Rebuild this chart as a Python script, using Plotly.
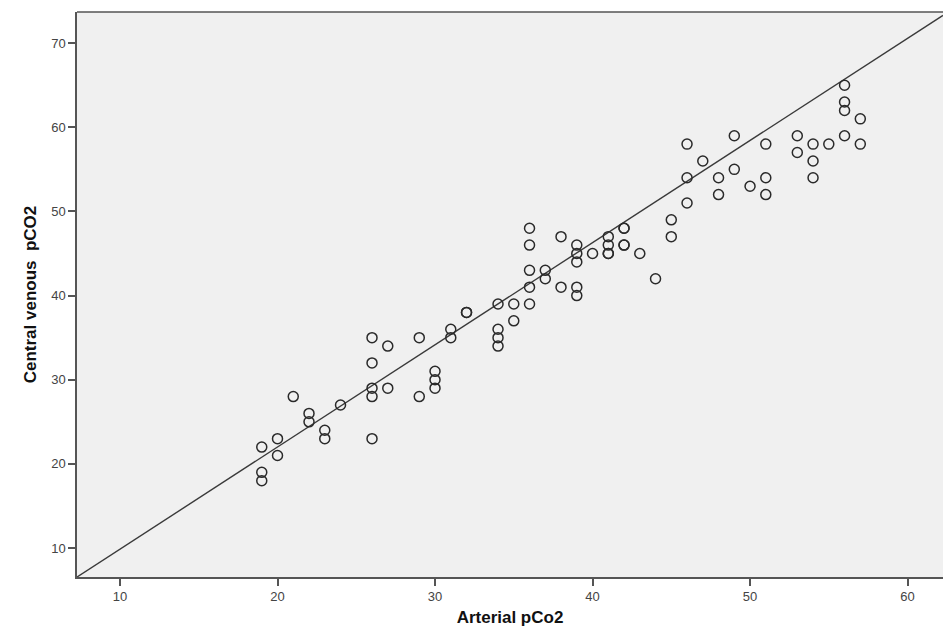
import plotly.graph_objects as go

# Data (Arterial pCO2, Central venous pCO2)
arterial = [19, 19, 19, 20, 20, 21, 22, 22, 23, 23, 24,
            26, 26, 26, 26, 26, 27, 27, 29, 29, 30, 30, 30,
            31, 31, 32, 32, 34, 34, 34, 34, 35, 35,
            36, 36, 36, 36, 36, 37, 37, 38, 38,
            39, 39, 39, 39, 39, 40, 41, 41, 41, 41, 42, 42, 42, 42, 43, 44, 45, 45,
            46, 46, 46, 47, 48, 48, 49, 49, 50, 51, 51, 51,
            53, 53, 54, 54, 54, 55, 56, 56, 56, 56, 57, 57]
venous = [22, 19, 18, 23, 21, 28, 26, 25, 24, 23, 27,
          35, 32, 29, 28, 23, 34, 29, 35, 28, 31, 30, 29,
          36, 35, 38, 38, 39, 36, 35, 34, 39, 37,
          48, 46, 43, 41, 39, 43, 42, 47, 41,
          46, 45, 44, 41, 40, 45, 47, 46, 45, 45, 48, 48, 46, 46, 45, 42, 49, 47,
          58, 54, 51, 56, 54, 52, 59, 55, 53, 58, 54, 52,
          59, 57, 58, 56, 54, 58, 65, 63, 62, 59, 61, 58]

# Fit line (intercept, slope) and axis ranges
fit_intercept = -2.27
fit_slope = 1.214
x_range = [7.27, 62.25]
y_range = [6.56, 73.7]
x_ticks = [10, 20, 30, 40, 50, 60]
y_ticks = [10, 20, 30, 40, 50, 60, 70]

line_x = x_range
line_y = [fit_intercept + fit_slope * v for v in line_x]

fig = go.Figure()
fig.add_trace(go.Scatter(
    x=line_x, y=line_y, mode="lines",
    line=dict(color="#3a3a3a", width=1.4),
    hoverinfo="skip", showlegend=False,
))
fig.add_trace(go.Scatter(
    x=arterial, y=venous, mode="markers",
    marker=dict(symbol="circle-open", size=10, color="#2a2a2a",
                line=dict(width=1.5, color="#2a2a2a")),
    showlegend=False,
))

axis_font = dict(family="Liberation Sans Narrow, Arial Narrow, Liberation Sans, Arial", size=17, color="#111111")
tick_font = dict(family="Liberation Sans, Arial", size=13, color="#444444")

fig.update_layout(
    width=943, height=636,
    margin=dict(l=77, r=0, t=12, b=59),
    paper_bgcolor="white",
    plot_bgcolor="#f0f0f0",
    xaxis=dict(
        range=x_range, tickvals=x_ticks, showgrid=False, zeroline=False,
        showline=True, linecolor="#555555", linewidth=1.5, mirror=False,
        ticks="outside", ticklen=7, tickcolor="#555555", tickwidth=1.5,
        tickfont=tick_font,
        title=dict(text="<b>Arterial pCo2</b>", font=axis_font, standoff=8),
    ),
    yaxis=dict(
        range=y_range, tickvals=y_ticks, showgrid=False, zeroline=False,
        showline=True, linecolor="#555555", linewidth=1.5, mirror=False,
        ticks="outside", ticklen=7, tickcolor="#555555", tickwidth=1.5,
        tickfont=tick_font,
        title=dict(text="<b>Central venous  pCO2</b>", font=axis_font, standoff=10),
    ),
    shapes=[dict(type="line", xref="paper", yref="paper", x0=0, x1=1, y0=1, y1=1,
                 line=dict(color="#555555", width=1.5))],
)

fig.write_html("out.html")
